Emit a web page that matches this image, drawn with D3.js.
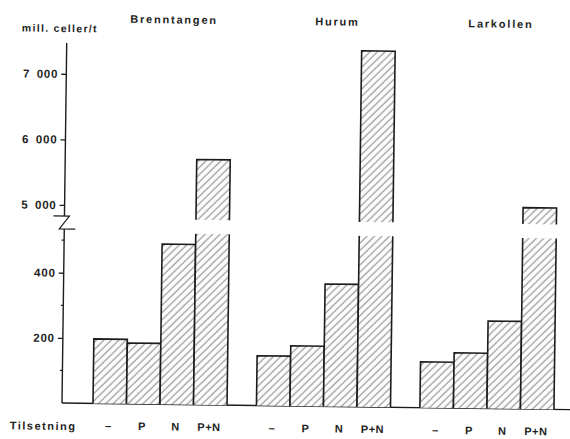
<!DOCTYPE html>
<html>
<head>
<meta charset="utf-8">
<script src="https://cdn.jsdelivr.net/npm/d3@7"></script>
<style>
  html, body { margin: 0; padding: 0; background: #fff; }
  svg { display: block; }
  text { font-family: "Liberation Sans", Arial, sans-serif; font-weight: bold; fill: #1e1e1e; }
</style>
</head>
<body>
<svg id="chart" width="570" height="439"></svg>
<script>
// Sites, treatments and cell counts (mill. celler per tonn)
const sites = ["Brenntangen", "Hurum", "Larkollen"];
const treatments = ["–", "P", "N", "P+N"];
const brenntangen = [198, 187, 492, 5720];
const hurum = [153, 185, 376, 7410];
const larkollen = [141, 170, 269, 5050];
const seriesBySite = [brenntangen, hurum, larkollen];

// Broken value axis: a lower and an upper segment
const lowerTicks = [200, 400];
const lowerMinorTicks = [100, 300, 500];
const upperTicks = [5000, 6000, 7000];
const lowerDomain = [0, 525];
const upperDomain = [4800, 7470];

const svg = d3.select("#chart");
const W = 570, H = 439;

// hatch fill for the bars
const defs = svg.append("defs");
const pat = defs.append("pattern")
  .attr("id", "hatch")
  .attr("patternUnits", "userSpaceOnUse")
  .attr("width", 5.2).attr("height", 5.2)
  .attr("patternTransform", "rotate(45)");
pat.append("rect").attr("width", 5.2).attr("height", 5.2).attr("fill", "#fcfcfc");
pat.append("line")
  .attr("x1", 1).attr("y1", 0).attr("x2", 1).attr("y2", 5.2)
  .attr("stroke", "#5e5e5e").attr("stroke-width", 0.75);

const originX = 62, originY = 403;
// whole drawing sits slightly tilted on the sheet
const g = svg.append("g").attr("transform", `rotate(0.75, ${originX}, ${originY})`);

const yLow = d3.scaleLinear().domain(lowerDomain).range([originY, 232]);
const yHigh = d3.scaleLinear().domain(upperDomain).range([218, 43]);

const x = d3.scaleBand().domain(sites).range([93, 554]).paddingInner(0.18).paddingOuter(0);
const xi = d3.scaleBand().domain(treatments).range([0, x.bandwidth()]).padding(0);

const fmt = v => d3.format(",")(v).replace(/,/g, "\u2002");
const ink = "#1c1c1c";

// ---- axes ----
const breakTop = 216, breakBottom = 229;

const lowAxis = g.append("g").attr("transform", `translate(${originX},0)`)
  .call(d3.axisLeft(yLow).tickValues(lowerTicks).tickSize(5).tickSizeOuter(0).tickPadding(3).tickFormat(fmt));
const highAxis = g.append("g").attr("transform", `translate(${originX},0)`)
  .call(d3.axisLeft(yHigh).tickValues(upperTicks).tickSize(5).tickSizeOuter(0).tickPadding(3).tickFormat(fmt));
[lowAxis, highAxis].forEach(a => {
  a.select(".domain").remove();
  a.selectAll(".tick line").attr("stroke", ink).attr("stroke-width", 1.3);
  a.selectAll(".tick text")
    .attr("font-size", 11.5).attr("letter-spacing", 0.8)
    .style("font-family", "'Liberation Sans', Arial, sans-serif").style("font-weight", "bold")
    .attr("fill", "#1e1e1e");
});

// minor ticks on the lower segment
g.append("g").selectAll("line").data(lowerMinorTicks).join("line")
  .attr("x1", originX - 2.5).attr("x2", originX)
  .attr("y1", d => yLow(d)).attr("y2", d => yLow(d))
  .attr("stroke", ink).attr("stroke-width", 1.2);

// axis lines either side of the break
g.append("line").attr("x1", originX).attr("x2", originX)
  .attr("y1", yHigh.range()[1]).attr("y2", breakTop)
  .attr("stroke", ink).attr("stroke-width", 1.4);
g.append("line").attr("x1", originX).attr("x2", originX)
  .attr("y1", breakBottom).attr("y2", yLow(0))
  .attr("stroke", ink).attr("stroke-width", 1.4);
// Z-shaped break mark
g.append("path")
  .attr("d", `M${originX - 11},${breakTop} L${originX + 5},${breakTop} L${originX - 5},${breakBottom} L${originX + 11},${breakBottom}`)
  .attr("fill", "none").attr("stroke", ink).attr("stroke-width", 1.2);

// base line
g.append("line")
  .attr("x1", originX).attr("x2", W + 10)
  .attr("y1", yLow(0)).attr("y2", yLow(0))
  .attr("stroke", ink).attr("stroke-width", 1.4);

// ---- bars ----
const bars = [];
sites.forEach((s, si) => {
  treatments.forEach((t, ti) => {
    bars.push({ site: s, treatment: t, value: seriesBySite[si][ti] });
  });
});

const barG = g.append("g");
bars.forEach(d => {
  const x0 = x(d.site) + xi(d.treatment);
  const x1 = x0 + xi.bandwidth();
  const lowMax = lowerDomain[1];
  if (d.value <= lowMax) {
    const yt = yLow(d.value), yb = yLow(0);
    barG.append("rect").attr("x", x0).attr("y", yt).attr("width", x1 - x0).attr("height", yb - yt)
      .attr("fill", "url(#hatch)");
    barG.append("path").attr("d", `M${x0},${yb} L${x0},${yt} L${x1},${yt} L${x1},${yb}`)
      .attr("fill", "none").attr("stroke", ink).attr("stroke-width", 1.6);
  } else {
    // lower piece, open at the top
    const lt = yLow(lowMax), lb = yLow(0);
    barG.append("rect").attr("x", x0).attr("y", lt).attr("width", x1 - x0).attr("height", lb - lt)
      .attr("fill", "url(#hatch)");
    barG.append("path").attr("d", `M${x0},${lt} L${x0},${lb} M${x1},${lt} L${x1},${lb}`)
      .attr("fill", "none").attr("stroke", ink).attr("stroke-width", 1.6);
    // upper piece, open at the bottom
    const ut = yHigh(d.value), ub = yHigh(upperDomain[0]);
    barG.append("rect").attr("x", x0).attr("y", ut).attr("width", x1 - x0).attr("height", ub - ut)
      .attr("fill", "url(#hatch)");
    barG.append("path").attr("d", `M${x0},${ub} L${x0},${ut} L${x1},${ut} L${x1},${ub}`)
      .attr("fill", "none").attr("stroke", ink).attr("stroke-width", 1.6);
  }
});

// ---- labels ----
g.append("text").attr("x", 17).attr("y", 32)
  .attr("font-size", 10.5).attr("letter-spacing", 1.3)
  .text("mill. celler/t");

g.append("g").selectAll("text").data(sites).join("text")
  .attr("x", d => x(d) + x.bandwidth() / 2 + 9)
  .attr("y", 22)
  .attr("text-anchor", "middle")
  .attr("font-size", 11).attr("letter-spacing", 1.8)
  .text(d => d);

g.append("text").attr("x", 10).attr("y", 430)
  .attr("font-size", 11).attr("letter-spacing", 1.5)
  .text("Tilsetning");

g.append("g").selectAll("text").data(bars).join("text")
  .attr("x", d => x(d.site) + xi(d.treatment) + xi.bandwidth() / 2 - 1)
  .attr("y", 429)
  .attr("text-anchor", "middle")
  .attr("font-size", 11).attr("letter-spacing", 0.5)
  .text(d => d.treatment);
</script>
</body>
</html>
